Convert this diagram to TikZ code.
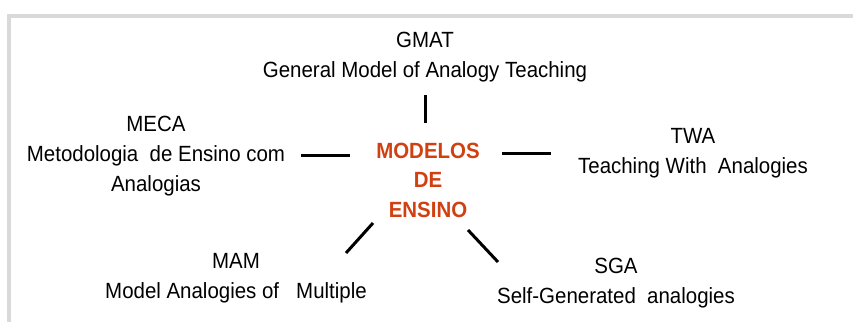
\documentclass[tikz,border=0pt]{standalone}
\usepackage{fontspec}
\setmainfont[FakeStretch=0.93]{Liberation Sans}
\usepackage{tikz}
\usetikzlibrary{positioning}
\definecolor{framegray}{RGB}{217,217,217}
\definecolor{hubred}{RGB}{208,64,16}

\begin{document}
\begin{tikzpicture}[
            x = 0.75pt, y = -0.75pt, % one unit = one pixel
            inner sep = 0pt,
            link/.style = {line width = 2.25pt} % connector style
        ]

        \tikzstyle{model}=[
            anchor = base, % base = last line
            align = center,
            font = \fontsize{16.5}{22.5}\selectfont
        ]
        \tikzstyle{hub}=[
            model,
            text = hubred,
            font = \fontsize{16.5}{22}\selectfont\bfseries
        ]

        \useasboundingbox (0,0) rectangle (853,322);

        % frame
        \draw[framegray, line width = 3pt, line join = miter] (9,322) -- (9,15.5) -- (853,15.5);

        % centre
        \node[hub] (H) at (428,217) {MODELOS\\DE\\ENSINO};

        % models
        \node[model] (GMAT) at (425,77) {GMAT\\General Model of Analogy Teaching};
        \node[model] (MECA) at (156,191) {MECA\\Metodologia\ \ de Ensino com\\Analogias};
        \node[model] (TWA) at (693,173) {TWA\\Teaching With\ \ Analogies};
        \node[model] (MAM) at (236,298) {MAM\\Model Analogies of\ \ \ Multiple};
        \node[model] (SGA) at (616,303) {SGA\\Self-Generated\ \ analogies};

        % connector ends
        \coordinate (H-n) at (425,123);  \coordinate (GMAT-s) at (425,95);
        \coordinate (H-w) at (350,155);  \coordinate (MECA-e) at (301,155);
        \coordinate (H-e) at (502,153);  \coordinate (TWA-w) at (551,153);
        \coordinate (H-sw) at (373,223); \coordinate (MAM-ne) at (346,253);
        \coordinate (H-se) at (468,230); \coordinate (SGA-nw) at (498,262);

        \draw[link] (H-n) -- (GMAT-s);
        \draw[link] (H-w) -- (MECA-e);
        \draw[link] (H-e) -- (TWA-w);
        \draw[link] (H-sw) -- (MAM-ne);
        \draw[link] (H-se) -- (SGA-nw);

\end{tikzpicture}
\end{document}
